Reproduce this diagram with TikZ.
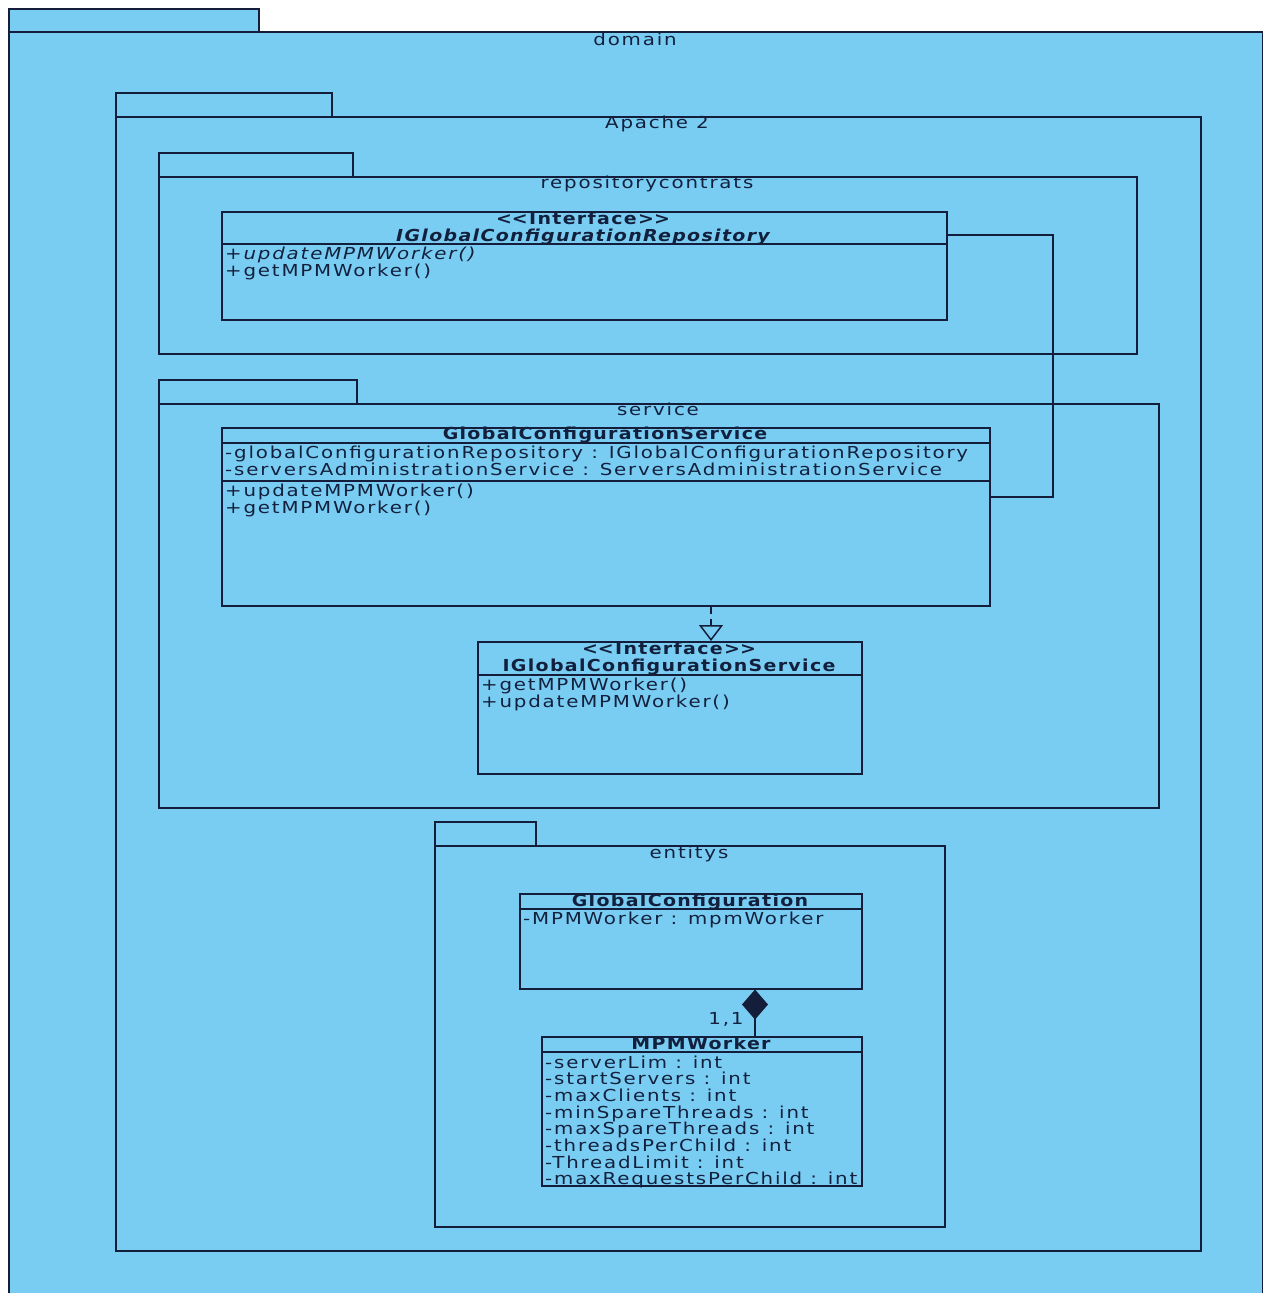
\documentclass[tikz,border=0pt]{standalone}
\usepackage{fontspec}
\setmainfont{DejaVu Sans}[FakeStretch=1.2, LetterSpace=11,
  BoldFeatures={FakeStretch=1.15, LetterSpace=8},
  BoldItalicFeatures={FakeStretch=1.15, LetterSpace=8}]
\usetikzlibrary{
  arrows.meta,
  positioning,
  calc
}
\definecolor{umlblue}{RGB}{122,205,242}
\definecolor{umlline}{RGB}{20,30,58}
\definecolor{umltext}{RGB}{18,32,62}
\newcommand{\umlsize}{\fontsize{16.5pt}{18pt}\selectfont}
\newcommand{\stereo}{\textless\kern0pt\textless Interface\textgreater\kern0pt\textgreater}
\tikzset{
  pkgtab/.style={draw=umlline, fill=umlblue, line width=1.5pt,
    anchor=north west, inner sep=0pt},
  pkgbody/.style={draw=umlline, fill=umlblue, line width=1.5pt,
    anchor=north west, inner sep=0pt},
  pkglabel/.style={anchor=base, inner sep=0pt, font=\umlsize, text=umltext},
  classbox/.style={draw=umlline, fill=umlblue, line width=1.5pt,
    anchor=north west, inner sep=0pt},
  ctitle/.style={anchor=base, inner sep=0pt, font=\umlsize\bfseries, text=umltext},
  cline/.style={anchor=base west, inner sep=0pt, font=\umlsize, text=umltext},
  csep/.style={draw=umlline, line width=1.5pt},
  assoc/.style={draw=umlline, line width=1.5pt},
  realize/.style={draw=umlline, line width=1.5pt, dash pattern=on 7pt off 5pt,
    -{Triangle[open, length=16pt, width=24pt, line width=1.5pt]}},
  compose/.style={draw=umlline, line width=1.5pt,
    {Diamond[length=30pt, width=26pt]}-},
}

\begin{document}
\begin{tikzpicture}[x=1pt, y=-1pt]
  \clip (0,0) rectangle (1263,1293);
  \fill[white] (0,0) rectangle (1263,1293);

  % packages
  \node[pkgtab, minimum width=250pt, minimum height=23pt] (domaintab) at (8,8) {};
  \node[pkgbody, minimum width=1254pt, minimum height=1300pt] (domain) at (8,31) {};
  \node[pkglabel] (domainlbl) at (635,45) {domain};

  \node[pkgtab, minimum width=216pt, minimum height=24pt] (apachetab) at (115,92) {};
  \node[pkgbody, minimum width=1085pt, minimum height=1134pt] (apache) at (115,116) {};
  \node[pkglabel] (apachelbl) at (657,128) {Apache 2};

  \node[pkgtab, minimum width=194pt, minimum height=24pt] (repopkgtab) at (158,152) {};
  \node[pkgbody, minimum width=978pt, minimum height=177pt] (repopkg) at (158,176) {};
  \node[pkglabel] (repopkglbl) at (647,188) {repositorycontrats};

  \node[pkgtab, minimum width=198pt, minimum height=24pt] (servpkgtab) at (158,379) {};
  \node[pkgbody, minimum width=1000pt, minimum height=404pt] (servpkg) at (158,403) {};
  \node[pkglabel] (servpkglbl) at (658,415) {service};

  \node[pkgtab, minimum width=101pt, minimum height=24pt] (entpkgtab) at (434,821) {};
  \node[pkgbody, minimum width=510pt, minimum height=381pt] (entpkg) at (434,845) {};
  \node[pkglabel] (entpkglbl) at (689,858) {entitys};

  % IGlobalConfigurationRepository
  \node[classbox, minimum width=725pt, minimum height=108pt] (repo) at (221,211) {};
  \node[ctitle] (repostereo) at (583,224) {\stereo};
  \node[ctitle] (reponame) at (583,241) {\itshape IGlobalConfigurationRepository};
  \draw[csep] ($(repo.north west)+(0,33)$) -- ($(repo.north east)+(0,33)$);
  \node[cline] (repoop1) at (225,259) {\itshape +updateMPMWorker()};
  \node[cline] (repoop2) at (225,276) {+getMPMWorker()};

  % GlobalConfigurationService
  \node[classbox, minimum width=768pt, minimum height=178pt] (gcs) at (221,427) {};
  \node[ctitle] (gcsname) at (605,439) {GlobalConfigurationService};
  \draw[csep] ($(gcs.north west)+(0,16)$) -- ($(gcs.north east)+(0,16)$);
  \node[cline] (gcsattr1) at (225,458) {-globalConfigurationRepository : IGlobalConfigurationRepository};
  \node[cline] (gcsattr2) at (225,475) {-serversAdministrationService : ServersAdministrationService};
  \draw[csep] ($(gcs.north west)+(0,54)$) -- ($(gcs.north east)+(0,54)$);
  \node[cline] (gcsop1) at (225,496) {+updateMPMWorker()};
  \node[cline] (gcsop2) at (225,513) {+getMPMWorker()};

  % IGlobalConfigurationService
  \node[classbox, minimum width=384pt, minimum height=132pt] (igcs) at (477,641) {};
  \node[ctitle] (igcsstereo) at (669,654) {\stereo};
  \node[ctitle] (igcsname) at (669,671) {IGlobalConfigurationService};
  \draw[csep] ($(igcs.north west)+(0,34)$) -- ($(igcs.north east)+(0,34)$);
  \node[cline] (igcsop1) at (481,690) {+getMPMWorker()};
  \node[cline] (igcsop2) at (481,707) {+updateMPMWorker()};

  % GlobalConfiguration
  \node[classbox, minimum width=342pt, minimum height=95pt] (gc) at (519,893) {};
  \node[ctitle] (gcname) at (690,906) {GlobalConfiguration};
  \draw[csep] ($(gc.north west)+(0,16)$) -- ($(gc.north east)+(0,16)$);
  \node[cline] (gcattr) at (523,924) {-MPMWorker : mpmWorker};

  % MPMWorker
  \node[classbox, minimum width=320pt, minimum height=149pt] (mpm) at (541,1036) {};
  \node[ctitle] (mpmname) at (701,1049) {MPMWorker};
  \draw[csep] ($(mpm.north west)+(0,16)$) -- ($(mpm.north east)+(0,16)$);
  \foreach \attr [count=\i from 0] in {-serverLim : int, -startServers : int,
      -maxClients : int, -minSpareThreads : int, -maxSpareThreads : int,
      -threadsPerChild : int, -ThreadLimit : int, -maxRequestsPerChild : int}
    \node[cline] (mpmattr\i) at (545,{1068+\i*16.7}) {\attr};
  \draw[csep] (mpm.south west) -- (mpm.south east);

  % connectors
  \coordinate (repoport) at (946,235);
  \coordinate (gcsport) at (989,497);
  \draw[assoc] (repoport) -- ++(107,0) |- (gcsport);

  \coordinate (realx) at (711,0);
  \draw[realize] (gcs.south -| realx) -- (igcs.north -| realx);

  \coordinate (compx) at (755,0);
  \draw[compose] (gc.south -| compx) -- (mpm.north -| compx);
  \node[inner sep=0pt, anchor=base, font=\umlsize, text=umltext] (mult) at (726,1024) {1,1};
\end{tikzpicture}
\end{document}
